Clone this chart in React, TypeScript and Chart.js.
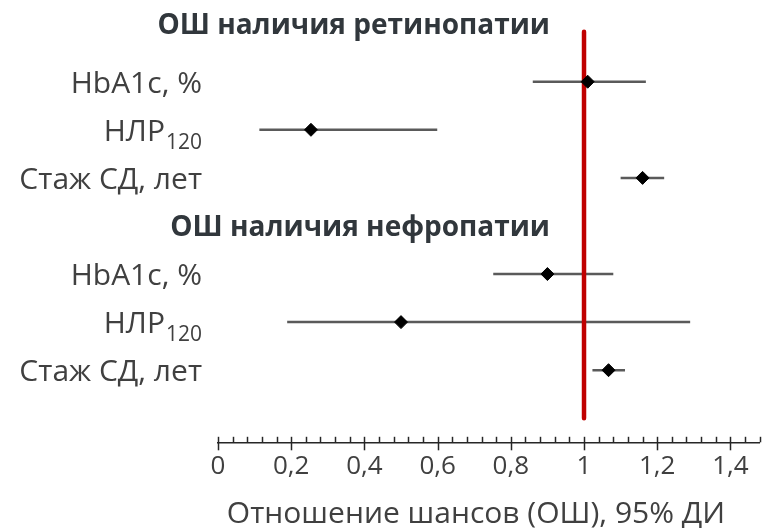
import React, { useEffect, useRef } from 'react';
import { Chart, registerables } from 'chart.js';

Chart.register(...registerables);

// ---- data ----
const rowLabels = ['HbA1c, %', 'НЛР', 'Стаж СД, лет', 'HbA1c, %', 'НЛР', 'Стаж СД, лет'];
const rowSubscripts = ['', '120', '', '', '120', ''];
const rowPositions = [0, 1, 2, 4, 5, 6];
const oddsRatios = [1.01, 0.254, 1.16, 0.9, 0.5, 1.067];
const ciLower = [0.86, 0.113, 1.1, 0.752, 0.189, 1.023];
const ciUpper = [1.169, 0.599, 1.219, 1.08, 1.29, 1.112];
const groupTitles = ['ОШ наличия ретинопатии', 'ОШ наличия нефропатии'];
const groupTitlePositions = [-1.195, 3.02];
const referenceValue = 1;
const referenceFrom = -1.04;
const referenceTo = 7.0;
const xTickLabelValues = [0, 0.2, 0.4, 0.6, 0.8, 1, 1.2, 1.4];
const xMin = 0;
const xMax = 1.48;
const minorTickStep = 0.04;
const xAxisTitle = 'Отношение шансов (ОШ), 95% ДИ';

const FONT = '"Open Sans", "Noto Sans", sans-serif';
const TEXT = '#404040';

const overlayPlugin = {
  id: 'forestOverlay',
  afterDraw(chart: any) {
    const ctx = chart.ctx;
    const xs = chart.scales.x;
    const ys = chart.scales.y;
    const axisY = chart.chartArea.bottom;
    ctx.save();
    ctx.strokeStyle = '#262626';
    ctx.lineWidth = 1.5;
    const n = Math.round((xMax - xMin) / minorTickStep);
    for (let i = 0; i <= n; i++) {
      const v = xMin + i * minorTickStep;
      const px = Math.round(xs.getPixelForValue(v)) + 0.5;
      const major = xTickLabelValues.some((t) => Math.abs(t - v) < 1e-6);
      ctx.beginPath();
      ctx.moveTo(px, axisY - 5.5);
      ctx.lineTo(px, major ? axisY + 8 : axisY);
      ctx.stroke();
    }
    const labelRight = 202;
    rowLabels.forEach((lab, i) => {
      const py = ys.getPixelForValue(rowPositions[i]);
      const base = py + 11;
      ctx.fillStyle = TEXT;
      ctx.textBaseline = 'alphabetic';
      let right = labelRight;
      const sub = rowSubscripts[i];
      if (sub) {
        ctx.font = `21px ${FONT}`;
        const w = ctx.measureText(sub).width;
        ctx.textAlign = 'left';
        ctx.fillText(sub, labelRight - w, base + 8);
        right = labelRight - w - 1;
      }
      ctx.font = `30px ${FONT}`;
      ctx.textAlign = 'right';
      ctx.fillText(lab, right, base);
    });
    ctx.font = `bold 28px ${FONT}`;
    ctx.fillStyle = '#31373c';
    ctx.textAlign = 'right';
    groupTitles.forEach((t, i) => {
      const py = ys.getPixelForValue(groupTitlePositions[i]);
      ctx.fillText(t, 550, py + 9.5);
    });
    ctx.font = `30px ${FONT}`;
    ctx.fillStyle = TEXT;
    ctx.textAlign = 'center';
    ctx.fillText(xAxisTitle, 476, 523);
    ctx.restore();
  },
};

export default function App() {
  const ref = useRef<HTMLCanvasElement | null>(null);
  useEffect(() => {
    if (!ref.current) return;
    const ciDatasets = rowPositions.map((y, i) => ({
      type: 'line' as const,
      data: [
        { x: ciLower[i], y },
        { x: ciUpper[i], y },
      ],
      borderColor: '#5a5a5a',
      borderWidth: 2.5,
      pointRadius: 0,
      showLine: true,
      order: 3,
    }));
    const chart = new Chart(ref.current, {
      type: 'scatter',
      data: {
        datasets: [
          {
            type: 'scatter',
            data: rowPositions.map((y, i) => ({ x: oddsRatios[i], y })),
            pointStyle: 'rectRot',
            pointRadius: 6.5,
            backgroundColor: '#000000',
            borderColor: '#000000',
            borderWidth: 1,
            order: 1,
          },
          {
            type: 'line',
            data: [
              { x: referenceValue, y: referenceFrom },
              { x: referenceValue, y: referenceTo },
            ],
            borderColor: '#c00000',
            borderWidth: 4.5,
            borderCapStyle: 'round',
            pointRadius: 0,
            showLine: true,
            order: 2,
          },
          ...ciDatasets,
        ] as any,
      },
      options: {
        animation: false,
        responsive: false,
        devicePixelRatio: 1,
        layout: { autoPadding: false, padding: { left: 218, right: 4.3, top: 0, bottom: 0 } },
        plugins: { legend: { display: false }, tooltip: { enabled: false } },
        scales: {
          x: {
            type: 'linear',
            min: xMin,
            max: xMax,
            position: 'bottom',
            afterBuildTicks: (scale: any) => {
              scale.ticks = xTickLabelValues.map((v) => ({ value: v }));
            },
            afterFit: (scale: any) => {
              scale.height = 528 - 442.3;
            },
            ticks: {
              autoSkip: false,
              maxRotation: 0,
              padding: 9,
              color: TEXT,
              font: { family: FONT, size: 26 },
              callback: (v: any) => String(Number(Number(v).toFixed(2))).replace('.', ','),
            },
            grid: { display: true, drawOnChartArea: false, drawTicks: false, color: 'rgba(0,0,0,0)' },
            border: { display: true, color: '#262626', width: 1.5 },
          },
          y: {
            type: 'linear',
            display: false,
            reverse: true,
            min: -1.7,
            max: 7.5,
          },
        },
      },
      plugins: [overlayPlugin],
    } as any);
    return () => chart.destroy();
  }, []);
  return (
    <div style={{ position: 'absolute', left: 0, top: 0, width: 764, height: 528, background: '#fff' }}>
      <canvas ref={ref} width={764} height={528} />
    </div>
  );
}
